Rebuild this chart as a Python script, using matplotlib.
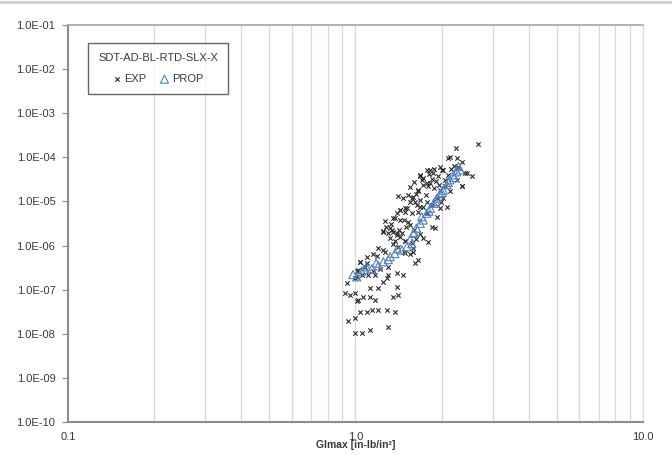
import numpy as np
import matplotlib.pyplot as plt
from matplotlib.lines import Line2D
from matplotlib.ticker import FixedLocator, NullFormatter

# measured crack growth rates (EXP)
exp_x = [1.185, 1.037, 1.096, 1.020, 1.053, 1.012, 1.105, 1.169, 1.297, 1.394,
         1.463, 1.287, 1.246, 0.934, 1.123, 1.198, 1.394, 0.919, 0.957, 0.996,
         1.020, 1.062, 1.123, 1.169, 1.350, 1.405, 1.012, 1.037, 1.096, 1.141,
         1.198, 1.287, 1.372, 0.942, 0.996, 1.297, 0.996, 1.053, 1.123,
         2.67, 2.23, 2.13, 2.25, 2.34, 2.40, 2.54, 2.34, 1.77, 1.87,
         2.00, 1.68, 1.94, 2.05, 1.72, 1.79, 1.87, 1.97, 2.13, 1.65,
         1.68, 1.77, 1.92, 2.02, 1.84, 1.97, 2.08, 1.51, 1.43, 1.57,
         1.65, 1.77, 1.92, 1.37, 1.47, 1.84, 1.89, 1.25, 1.32, 1.39,
         1.43, 1.49, 1.72, 1.79, 1.47, 1.55, 1.61, 1.65, 1.037, 1.08,
         1.15, 1.22, 1.30, 1.01, 0.996,
         1.547, 1.636, 1.43, 1.487, 1.394, 1.35, 1.43, 1.523, 1.246, 1.34,
         1.394, 1.45, 1.32, 1.37, 1.487, 1.572, 1.27, 1.487, 1.584,
         1.40, 1.46, 1.52, 1.58, 1.62, 1.55, 1.60, 1.70, 1.82, 1.90,
         1.80, 1.85, 1.95, 2.10, 2.20, 2.15, 1.30, 1.35, 1.28, 1.42,
         1.33, 1.27, 1.50, 1.55, 1.60, 1.62, 1.68, 1.58, 1.40, 1.35,
         1.20, 1.15, 1.10, 1.25, 1.72, 1.76, 2.05, 2.25, 1.98,
         2.10, 2.28, 1.97, 1.82, 1.86, 1.68, 1.72, 2.01, 2.44, 2.34,
         1.77, 1.65, 1.57, 1.61, 1.68, 1.49]
exp_y = [5.8e-7, 4.2e-7, 4.0e-7, 2.8e-7, 2.1e-7, 1.9e-7, 2.1e-7, 2.1e-7, 2.1e-7, 2.4e-7,
         2.1e-7, 1.8e-7, 1.5e-7, 1.4e-7, 1.1e-7, 1.1e-7, 1.15e-7, 8.4e-8, 7.5e-8, 8.4e-8,
         5.8e-8, 6.8e-8, 6.8e-8, 5.8e-8, 6.8e-8, 7.5e-8, 5.5e-8, 3.1e-8, 3.1e-8, 3.4e-8,
         3.4e-8, 3.4e-8, 3.1e-8, 2.0e-8, 2.3e-8, 1.4e-8, 1.04e-8, 1.04e-8, 1.2e-8,
         2.0e-4, 1.6e-4, 1.03e-4, 9.5e-5, 8.0e-5, 4.4e-5, 3.7e-5, 2.2e-5, 5.2e-5, 5.4e-5,
         5.2e-5, 3.8e-5, 3.7e-5, 3.1e-5, 2.4e-5, 2.2e-5, 2.0e-5, 1.8e-5, 1.7e-5, 1.7e-5,
         1.08e-5, 9.9e-6, 1.2e-5, 1.2e-5, 8.3e-6, 7.0e-6, 7.6e-6, 7.0e-6, 6.4e-6, 5.4e-6,
         5.9e-6, 5.4e-6, 4.5e-6, 4.2e-6, 3.8e-6, 2.7e-6, 2.5e-6, 2.1e-6, 2.5e-6, 1.7e-6,
         1.6e-6, 1.3e-6, 1.45e-6, 1.2e-6, 7.2e-7, 6.6e-7, 4.0e-7, 4.7e-7, 4.3e-7, 3.3e-7,
         2.6e-7, 3.0e-7, 3.3e-7, 2.6e-7, 1.8e-7,
         9.7e-6, 8.3e-6, 6.4e-6, 7.1e-6, 5.5e-6, 4.2e-6, 3.8e-6, 3.4e-6, 2.0e-6, 2.2e-6,
         1.9e-6, 1.9e-6, 1.5e-6, 1.3e-6, 1.3e-6, 1.14e-6, 7.1e-7, 6.8e-7, 7.1e-7,
         1.3e-5, 1.2e-5, 1.4e-5, 1.25e-5, 1.5e-5, 2.1e-5, 2.8e-5, 3.0e-5, 2.6e-5, 2.9e-5,
         4.2e-5, 3.3e-5, 2.4e-5, 4.0e-5, 6.5e-5, 5.5e-5, 1.9e-6, 2.0e-6, 2.7e-6, 2.3e-6,
         3.1e-6, 3.6e-6, 2.7e-6, 3.0e-6, 2.2e-6, 1.4e-6, 1.8e-6, 9.0e-7, 9.5e-7, 1.1e-6,
         9.0e-7, 6.5e-7, 5.5e-7, 8.0e-7, 7.5e-6, 1.4e-5, 2.2e-5, 3.0e-5, 9.5e-6,
         9.6e-5, 6.0e-5, 6.0e-5, 5.2e-5, 4.4e-5, 4.0e-5, 3.4e-5, 5.2e-5, 4.4e-5, 2.3e-5,
         2.6e-5, 1.8e-5, 1.2e-5, 9.7e-6, 7.6e-6, 5.7e-6]

# predicted rates (PROP)
prop_x = [1.01, 1.05, 1.09, 1.14, 1.18, 1.25, 1.32, 1.37, 1.45, 1.51,
          1.57, 1.59, 1.63, 1.68, 1.72, 1.77, 1.82, 1.87, 1.92, 1.97,
          2.02, 2.08, 2.13, 2.19, 2.25, 2.31, 2.28,
          0.98, 1.07, 1.20, 1.30, 1.40, 1.55, 1.60, 1.70, 1.80, 1.90,
          2.00, 2.10, 2.20]
prop_y = [1.95e-7, 2.6e-7, 3.3e-7, 3.0e-7, 4.0e-7, 4.3e-7, 5.6e-7, 6.6e-7, 7.9e-7, 9.4e-7,
          1.1e-6, 1.9e-6, 2.5e-6, 3.2e-6, 3.8e-6, 5.4e-6, 7.0e-6, 9.1e-6, 1.2e-5, 1.5e-5,
          1.8e-5, 2.4e-5, 3.1e-5, 4.0e-5, 4.7e-5, 5.2e-5, 6.2e-5,
          2.2e-7, 2.9e-7, 3.5e-7, 4.8e-7, 8.5e-7, 1.4e-6, 2.0e-6, 4.5e-6, 6.0e-6, 1.0e-5,
          1.6e-5, 2.7e-5, 3.5e-5]

x_ticks = [0.1, 1.0, 10.0]
x_tick_labels = ["0.1", "1.0", "10.0"]
y_ticks = [1e-10, 1e-9, 1e-8, 1e-7, 1e-6, 1e-5, 1e-4, 1e-3, 1e-2, 1e-1]
y_tick_labels = ["1.0E-10", "1.0E-09", "1.0E-08", "1.0E-07", "1.0E-06",
                 "1.0E-05", "1.0E-04", "1.0E-03", "1.0E-02", "1.0E-01"]

plt.rcParams['font.family'] = ['Liberation Sans', 'DejaVu Sans']

fig = plt.figure(figsize=(6.72, 4.55), dpi=100)
ax = fig.add_axes([0.101, 0.0725, 0.856, 0.8725])

ax.scatter(exp_x, exp_y, marker='x', s=10, color='#2a2a2a', linewidths=0.8,
           label='EXP', zorder=3)
ax.scatter(prop_x, prop_y, marker='^', s=34, facecolors='none', edgecolors='#4f81bd',
           linewidths=0.8, label='PROP', zorder=4)

ax.set_xscale('log')
ax.set_yscale('log')
ax.set_xlim(0.1, 10.0)
ax.set_ylim(1e-10, 1e-1)

ax.set_xticks(x_ticks)
ax.set_xticklabels(x_tick_labels)
minor = [m * d for d in (0.1, 1.0) for m in range(2, 10)]
ax.xaxis.set_minor_locator(FixedLocator(minor))
ax.xaxis.set_minor_formatter(NullFormatter())
ax.set_yticks(y_ticks)
ax.set_yticklabels(y_tick_labels)
ax.yaxis.set_minor_locator(FixedLocator([]))

ax.grid(True, which='both', axis='x', color='#d9d9d9', linewidth=0.9)
ax.set_axisbelow(True)

ax.tick_params(axis='x', which='both', length=0, pad=7, labelsize=8, colors='#3a3a3a')
ax.tick_params(axis='y', which='major', length=4, width=0.8, color='#868686',
               pad=5, labelsize=8, labelcolor='#3a3a3a')

ax.set_xlabel("Glmax [in-lb/in²]", fontsize=7.5, fontweight='bold', color='#3a3a3a')
ax.xaxis.set_label_coords(0.5, -0.046)

for side in ('left', 'bottom'):
    ax.spines[side].set_color('#8c8c8c')
    ax.spines[side].set_linewidth(1.5)
ax.spines['top'].set_color('#a6a6a6')
ax.spines['top'].set_linewidth(1.2)
ax.spines['right'].set_color('#d9d9d9')
ax.spines['right'].set_linewidth(0.9)

leg = ax.legend(title="SDT-AD-BL-RTD-SLX-X", ncol=2, loc='upper left',
                bbox_to_anchor=(0.035, 0.955), borderaxespad=0, fontsize=8,
                title_fontsize=8, frameon=True, fancybox=False, handlelength=0.8,
                handletextpad=0.3, columnspacing=1.2, borderpad=0.9, labelspacing=0.5)
leg.get_frame().set_edgecolor('#404040')
leg.get_frame().set_linewidth(1.0)
leg.get_title().set_color('#3a3a3a')
leg._legend_box.sep = 8
for t in leg.get_texts():
    t.set_color('#3a3a3a')

# thin rule along the top of the picture
fig.add_artist(Line2D([0, 1], [0.995, 0.995], transform=fig.transFigure,
                      color='#d0d0d0', linewidth=2))

fig.savefig("out.png", dpi=100)
